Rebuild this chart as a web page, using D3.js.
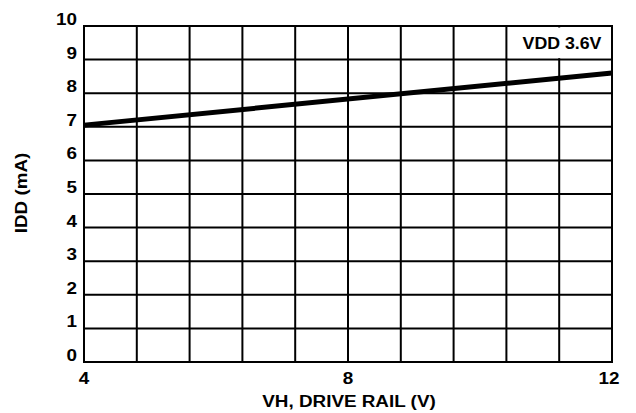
<!doctype html>
<html>
  <head>
    <meta charset='utf-8'>
    <script src="https://d3js.org/d3.v7.min.js"></script>
    <style>
      body { margin: 0; background: #fff; }
      text { font-family: "Liberation Sans", Arial, sans-serif; font-weight: bold; fill: #000; font-size: 17px; }
    </style>
  </head>
  <body>
  <svg width="636" height="413"></svg>
  <script>
    const vh = [4, 12];
    const idd = [7.05, 8.6];
    const xTicks = [4, 8, 12];
    const yTicks = [0, 1, 2, 3, 4, 5, 6, 7, 8, 9, 10];
    const xGrid = d3.range(0, 11).map((i) => 4 + i * 0.8);
    const legendLabel = "VDD 3.6V";

    const svg = d3.select("svg");
    const plotLeft = 84, plotRight = 612, plotTop = 26, plotBottom = 362;
    const stretch = "scale(1.11,1)";

    const x = d3.scaleLinear().domain([4, 12]).range([plotLeft, plotRight]);
    const y = d3.scaleLinear().domain([0, 10]).range([plotBottom, plotTop]);

    // grid
    svg.selectAll(".vgrid")
      .data(xGrid)
      .enter()
        .append("line")
          .attr("class", "vgrid")
          .attr("x1", (d) => x(d)).attr("x2", (d) => x(d))
          .attr("y1", plotTop).attr("y2", plotBottom)
          .attr("stroke", "#000").attr("stroke-width", 2);

    svg.selectAll(".hgrid")
      .data(yTicks)
      .enter()
        .append("line")
          .attr("class", "hgrid")
          .attr("x1", plotLeft - 1).attr("x2", plotRight + 1)
          .attr("y1", (d) => y(d)).attr("y2", (d) => y(d))
          .attr("stroke", "#000").attr("stroke-width", 2);

    // legend box over the grid
    svg.append("rect")
      .attr("x", 509).attr("y", y(10) + 1.5)
      .attr("width", plotRight - 1 - 509).attr("height", y(9) - y(10) - 3)
      .attr("fill", "#fff");
    svg.append("text")
      .attr("transform", `translate(562,${y(9.5) + 6}) ${stretch}`)
      .attr("text-anchor", "middle")
      .style("font-size", "16px")
      .text(legendLabel);

    // data line
    const line = d3.line().x((d) => x(d[0])).y((d) => y(d[1]));
    svg.append("path")
      .datum(vh.map((v, i) => [v, idd[i]]))
      .attr("d", line)
      .attr("fill", "none")
      .attr("stroke", "#000")
      .attr("stroke-width", 5);

    // tick labels
    svg.selectAll(".ylab")
      .data(yTicks)
      .enter()
        .append("text")
          .attr("class", "ylab")
          .attr("transform", (d) => `translate(77,${y(d) - 1}) ${stretch}`)
          .attr("text-anchor", "end")
          .text((d) => d);

    svg.selectAll(".xlab")
      .data(xTicks)
      .enter()
        .append("text")
          .attr("class", "xlab")
          .attr("transform", (d) => `translate(${d === 12 ? x(d) - 3 : x(d)},384) ${stretch}`)
          .attr("text-anchor", "middle")
          .text((d) => d);

    // axis titles
    svg.append("text")
      .attr("transform", `translate(349,407) ${stretch}`)
      .attr("text-anchor", "middle")
      .text("VH, DRIVE RAIL (V)");

    svg.append("text")
      .attr("transform", "translate(27,193) rotate(-90) " + stretch)
      .attr("text-anchor", "middle")
      .text("IDD (mA)");
  </script>
  </body>
</html>
